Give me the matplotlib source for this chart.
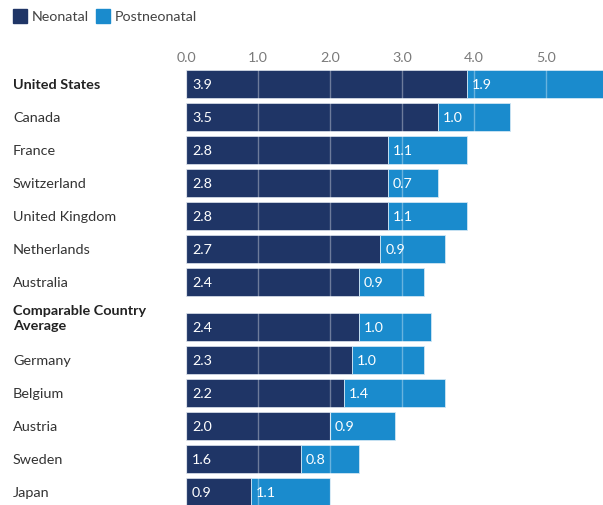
import matplotlib.pyplot as plt
from matplotlib.patches import Rectangle
import matplotlib.transforms as mtransforms

plt.rcParams['font.family'] = ['Lato', 'DejaVu Sans']

countries = ['United States', 'Canada', 'France', 'Switzerland', 'United Kingdom',
             'Netherlands', 'Australia', 'Comparable Country\nAverage', 'Germany',
             'Belgium', 'Austria', 'Sweden', 'Japan']
neonatal = [3.9, 3.5, 2.8, 2.8, 2.8, 2.7, 2.4, 2.4, 2.3, 2.2, 2.0, 1.6, 0.9]
postneonatal = [1.9, 1.0, 1.1, 0.7, 1.1, 0.9, 0.9, 1.0, 1.0, 1.4, 0.9, 0.8, 1.1]
bold_rows = ['United States', 'Comparable Country\nAverage']

dark = '#1f3566'
light = '#1a8bcd'

# the two-line label row gets a little extra room
ypos = [i if i < 7 else i + 0.36 for i in range(len(countries))]

fig = plt.figure(figsize=(6.03, 5.06), dpi=100)
ax = fig.add_axes([186 / 603, 0, 1 - 186 / 603, 1 - 70 / 506])

h = 0.85
ax.barh(ypos, neonatal, height=h, color=dark, edgecolor='#d0d8e4', linewidth=0.6, zorder=2)
ax.barh(ypos, postneonatal, left=neonatal, height=h, color=light,
        edgecolor='#d0e6f4', linewidth=0.6, zorder=2)

ax.set_xlim(0, 417 / 72)
ax.set_ylim(12.76, -0.4545)
ax.set_xticks([0, 1, 2, 3, 4, 5])
ax.set_xticklabels(['0.0', '1.0', '2.0', '3.0', '4.0', '5.0'])
ax.xaxis.tick_top()
ax.tick_params(axis='x', length=0, pad=4, labelsize=10.3, labelcolor='#7a7a7a')
ax.set_yticks([])
for s in ax.spines.values():
    s.set_visible(False)
ax.grid(axis='x', color='white', alpha=0.35, linewidth=1, zorder=3)
ax.set_axisbelow(False)

pad = 6 / 72
for y, n, p in zip(ypos, neonatal, postneonatal):
    ax.text(pad, y, f'{n:.1f}', color='white', va='center', ha='left', fontsize=10.3, zorder=4)
    ax.text(n + pad * 0.8, y, f'{p:.1f}', color='white', va='center', ha='left', fontsize=10.3, zorder=4)

trans = mtransforms.blended_transform_factory(fig.transFigure, ax.transData)
for y, name in zip(ypos, countries):
    # two-line labels sit with their last line beside the bar
    ly = y - 0.27 * name.count('\n')
    ax.text(13 / 603, ly, name, transform=trans, ha='left', va='center', fontsize=10.4,
            color='#222222' if name in bold_rows else '#333333',
            fontweight='bold' if name in bold_rows else 'normal',
            linespacing=1.3, clip_on=False)

# legend swatches along the top edge
fig.patches.append(Rectangle((13 / 603, 1 - 24 / 506), 14 / 603, 14 / 506,
                             transform=fig.transFigure, color=dark))
fig.text(32 / 603, 1 - 17 / 506, 'Neonatal', va='center', ha='left', fontsize=10.3, color='#444444')
fig.patches.append(Rectangle((96 / 603, 1 - 24 / 506), 14 / 603, 14 / 506,
                             transform=fig.transFigure, color=light))
fig.text(115 / 603, 1 - 17 / 506, 'Postneonatal', va='center', ha='left', fontsize=10.3, color='#444444')

fig.savefig('out.png', dpi=100)
